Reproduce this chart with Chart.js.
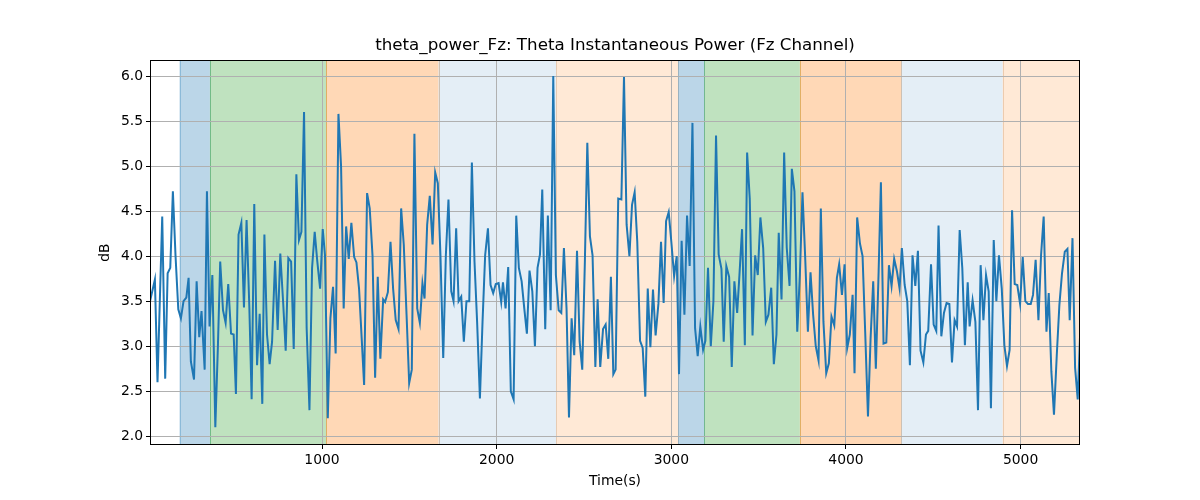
<!DOCTYPE html>
<html><head><meta charset="utf-8">
<script src="https://cdn.jsdelivr.net/npm/chart.js@4.4.0/dist/chart.umd.min.js"></script>
<style>html,body{margin:0;padding:0;background:#fff}#wrap{width:1200px;height:500px}</style>
</head><body><div id="wrap"><canvas id="c" width="1200" height="500"></canvas></div>
<script>
const timeSec = [
15,43,58,85,102,116,131,146,161,177,192,207,223,236,249,267,282,297,310,328,
341,356,372,389,404,417,433,448,463,479,494,507,522,538,553,568,584,597,612,628,
643,658,670,685,
700,714,731,746,761,777,792,807,823,838,853,868,882,897,912,928,943,958,973,989,
1004,1017,1033,1048,1063,1078,1094,1109,1124,1138,1153,1168,1184,1197,1212,1227,1241,1258,1273,1289,
1304,1319,1334,1350,
1361,1377,1392,1407,1422,1438,1453,1468,1484,1499,1514,1529,1545,1560,1575,1587,1602,1617,1633,1648,
1663,1678,1694,1709,1724,1740,1753,1768,1782,1797,1812,1827,1843,1858,1873,1888,1904,1919,1934,1950,
1965,1980,1995,2011,2026,
2036,2051,2066,2081,2097,2112,2127,2143,2158,2173,2188,2204,2219,2234,2248,2261,2278,2293,2309,2324,
2339,2355,2370,2385,2400,2414,2429,2444,2460,2475,2490,2505,2519,2534,2549,2565,2578,2593,2609,2624,
2639,2654,2668,2681,2696,
2714,2729,2744,2760,2775,2790,2805,2821,2836,2851,2865,2880,2895,2910,2926,2941,2956,2970,2985,3000,
3016,3031,3044,3059,3075,3090,3105,3121,3136,3151,3166,3182,3195,3210,3226,3241,3256,3271,3287,3300,
3315,3331,3346,3361,
3377,3390,3405,3421,3434,3449,3465,3480,3495,3510,3526,3541,3556,3572,3587,3602,3615,3631,3646,3661,
3677,3690,3705,3721,3736,3751,3766,3782,3797,3812,3827,3843,3856,3871,3887,3902,3917,3933,3948,3961,
3977,3992,4007,4022,4038,
4049,4064,4080,4095,4110,4126,4141,4156,4171,4187,4200,4215,4231,4246,4261,4276,4292,4307,4320,4336,
4351,4366,4381,4397,4412,4427,4443,4458,4471,4487,4502,4517,4530,4546,4561,4576,4592,4607,4622,4636,
4651,4666,4681,4697,4708,
4725,4741,4756,4771,4787,4802,4817,4830,4846,4861,4876,4892,4907,4922,4937,4951,4966,4981,4997,5012,
5027,5042,5058,5071,5086,5102,5117,5132,5148,5161,5176,5191,5207,5222,5237,5253,5268,5281,5297,5312,
5327,5340
];
const thetaPowerDb = [
3.50,3.74,2.60,4.44,2.64,3.81,3.87,4.72,4.01,3.41,3.31,3.50,3.54,3.76,2.83,2.63,3.72,3.10,3.39,2.74,
4.72,3.22,3.79,2.10,3.01,3.94,3.40,3.26,3.69,3.14,3.13,2.47,4.24,4.37,3.43,4.40,3.42,2.41,4.58,2.79,
3.36,2.36,4.24,3.13,
2.80,3.05,3.95,3.18,4.03,3.50,2.95,3.98,3.94,2.97,4.91,4.18,4.27,5.60,3.20,2.29,3.87,4.27,3.94,3.64,
4.30,4.01,2.20,3.31,3.66,2.92,5.58,5.00,3.42,4.33,3.97,4.37,3.99,3.93,3.64,3.09,2.57,4.70,4.53,4.01,
2.65,3.77,2.86,3.52,
3.49,3.60,4.16,3.64,3.29,3.19,4.53,4.13,3.35,2.59,2.74,5.36,3.42,3.26,3.70,3.53,4.35,4.67,4.13,4.93,
4.81,4.01,2.87,4.01,4.63,3.61,3.50,4.31,3.50,3.55,3.05,3.50,3.50,5.04,3.94,3.27,2.42,3.27,4.01,4.31,
3.68,3.59,3.69,3.70,3.49,
3.71,3.42,3.88,2.50,2.41,4.45,3.87,3.72,3.42,3.14,3.84,3.61,3.00,3.87,4.02,4.74,3.19,4.45,3.40,6.00,
3.79,3.40,3.37,4.09,3.42,2.21,3.31,2.90,4.06,3.05,2.74,3.94,5.26,4.22,4.01,2.77,3.52,2.77,3.19,3.24,
2.86,3.77,2.69,2.74,4.64,
4.63,5.99,4.35,4.00,4.57,4.71,4.16,3.06,2.98,2.44,3.64,2.99,3.63,3.12,3.47,4.16,3.48,4.39,4.49,4.16,
3.78,4.00,2.69,4.17,3.35,4.45,3.89,5.48,3.20,2.89,3.22,2.96,3.06,3.87,3.00,3.50,5.34,4.02,3.86,3.05,
3.89,3.77,2.77,3.72,
3.37,3.79,4.30,3.01,5.15,4.64,3.12,4.01,3.79,4.43,4.09,3.27,3.35,3.65,2.80,3.13,4.26,3.52,5.15,4.09,
3.67,4.97,4.72,3.16,3.79,4.71,4.01,3.16,3.82,3.35,3.00,2.84,4.53,3.27,2.70,2.81,3.33,3.23,3.76,3.91,
3.57,3.91,2.98,3.13,3.57,
2.70,4.43,4.14,4.00,3.16,2.22,3.09,3.72,2.75,3.83,4.82,3.03,3.04,3.90,3.67,3.97,3.83,3.64,4.09,3.68,
3.50,2.79,4.01,3.67,4.06,2.95,2.82,3.13,3.17,3.91,3.24,3.17,4.34,3.11,3.37,3.48,3.47,2.82,3.29,3.22,
4.29,3.87,3.01,3.71,3.22,
3.51,3.27,2.29,3.90,3.29,3.79,3.61,2.31,4.18,3.50,4.01,3.64,3.01,2.78,2.96,4.51,3.69,3.68,3.47,3.99,
3.50,3.47,3.47,3.57,3.96,3.29,4.01,4.44,3.16,3.59,2.72,2.24,2.90,3.46,3.81,4.05,4.08,3.29,4.20,2.76,
2.41,3.10
];
const xTicks = [1000, 2000, 3000, 4000, 5000];
const yTicks = [2.0, 2.5, 3.0, 3.5, 4.0, 4.5, 5.0, 5.5, 6.0];
const spanStart = [184, 358, 1023, 1667, 2341, 3040, 3189, 3736, 4315, 4897];
const spanEnd   = [358, 1023, 1667, 2341, 3040, 3189, 3736, 4315, 4897, 5340];
const spanKind  = ['blue','green','orange','lightblue','lightorange','blue','green','orange','lightblue','lightorange'];

const kindFill = {
  blue: 'rgba(31,119,180,0.3)',
  green: 'rgba(44,160,44,0.3)',
  orange: 'rgba(255,127,14,0.3)',
  lightblue: 'rgba(31,119,180,0.12)',
  lightorange: 'rgba(255,127,14,0.17)'
};

const points = timeSec.map((t, i) => ({x: t, y: thetaPowerDb[i]}));

const spanPlugin = {
  id: 'spans',
  beforeDraw(chart) {
    const {ctx, chartArea: a, scales: {x}} = chart;
    ctx.save();
    ctx.beginPath(); ctx.rect(a.left, a.top, a.right - a.left, a.bottom - a.top); ctx.clip();
    spanStart.forEach((s, i) => {
      const x0 = x.getPixelForValue(s), x1 = x.getPixelForValue(spanEnd[i]);
      const c = kindFill[spanKind[i]];
      ctx.fillStyle = c;
      ctx.fillRect(x0, a.top, x1 - x0, a.bottom - a.top);
      ctx.strokeStyle = c; ctx.lineWidth = 1;
      ctx.beginPath();
      ctx.moveTo(Math.round(x0) + 0.5, a.top); ctx.lineTo(Math.round(x0) + 0.5, a.bottom);
      ctx.moveTo(Math.round(x1) + 0.5, a.top); ctx.lineTo(Math.round(x1) + 0.5, a.bottom);
      ctx.stroke();
    });
    ctx.restore();
  },
  afterDatasetsDraw(chart) {
    const {ctx, chartArea: a} = chart;
    ctx.save();
    ctx.strokeStyle = '#000'; ctx.lineWidth = 1;
    ctx.strokeRect(Math.round(a.left) + 0.5, Math.round(a.top) + 0.5, Math.round(a.right - a.left) - 1, Math.round(a.bottom - a.top) - 1);
    ctx.restore();
  }
};

Chart.defaults.font.family = '"DejaVu Sans", sans-serif';
Chart.defaults.font.size = 13.9;
Chart.defaults.color = '#000';

new Chart(document.getElementById('c'), {
  type: 'line',
  data: {
    datasets: [{
      data: points,
      borderColor: '#1f77b4',
      borderWidth: 2,
      pointRadius: 0,
      fill: false,
      tension: 0
    }]
  },
  options: {
    responsive: false,
    animation: false,
    devicePixelRatio: 1,
    layout: {padding: {left: 0, right: 120, top: 0, bottom: 0}},
    plugins: {
      legend: {display: false},
      tooltip: {enabled: false},
      title: {
        display: true,
        fullSize: false,
        text: 'theta_power_Fz: Theta Instantaneous Power (Fz Channel)',
        color: '#000',
        font: {size: 16.7, weight: 'normal'},
        padding: {top: 36, bottom: 4}
      }
    },
    scales: {
      x: {
        type: 'linear',
        min: 15, max: 5340,
        afterFit: s => { s.height = 55; },
        afterBuildTicks: s => { s.ticks = xTicks.map(v => ({value: v})); },
        ticks: {callback: v => String(v), padding: 3, maxRotation: 0, autoSkip: false},
        grid: {color: '#b0b0b0', lineWidth: 1, tickColor: '#000', tickLength: 4, drawTicks: true},
        border: {display: false},
        title: {display: true, text: 'Time(s)', padding: {top: 0, bottom: 10.7}}
      },
      y: {
        type: 'linear',
        min: 1.903, max: 6.178,
        afterFit: s => { s.width = 150; },
        afterBuildTicks: s => { s.ticks = yTicks.map(v => ({value: v})); },
        ticks: {callback: v => Number(v).toFixed(1), padding: 3, autoSkip: false},
        grid: {color: '#b0b0b0', lineWidth: 1, tickColor: '#000', tickLength: 4, drawTicks: true},
        border: {display: false},
        title: {display: true, text: 'dB', padding: {top: 96.7, bottom: 0}}
      }
    }
  },
  plugins: [spanPlugin]
});
</script>
</body></html>
